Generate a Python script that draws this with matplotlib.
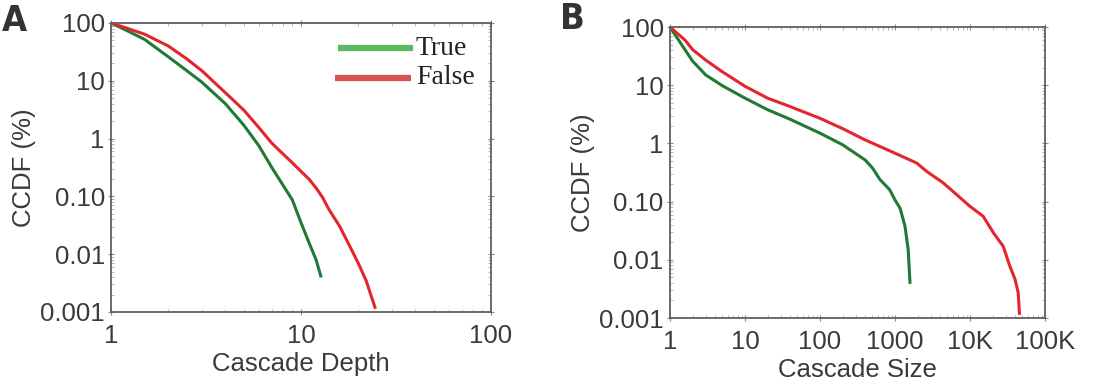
import matplotlib
matplotlib.use('Agg')
import matplotlib.pyplot as plt
import matplotlib.ticker as mticker

# Panel A: cascade depth CCDF (%)
depth_true_x = [1, 1.2, 1.5, 2, 2.5, 3, 4, 5, 6, 7, 8, 9, 10, 11, 12, 12.7]
depth_true_y = [100, 75, 52, 26, 15, 9.5, 4.0, 1.7, 0.75, 0.32, 0.16, 0.087, 0.035, 0.016, 0.008, 0.0042]
depth_false_x = [1, 1.2, 1.5, 2, 2.5, 3, 4, 5, 6, 7, 8, 9, 10, 11, 12, 13, 14, 16, 18, 20, 22, 24.5]
depth_false_y = [100, 82, 64, 40, 24, 15, 6.2, 3.1, 1.55, 0.84, 0.55, 0.38, 0.27, 0.2, 0.14, 0.095, 0.06, 0.03,
                 0.014, 0.007, 0.0035, 0.0012]

# Panel B: cascade size CCDF (%)
size_true_x = [1, 1.58, 2, 3, 5, 10, 20, 40, 100, 200, 400, 500, 630, 850, 1000, 1170, 1360, 1500, 1585]
size_true_y = [100, 41, 26, 15, 9.8, 6.0, 3.8, 2.6, 1.5, 0.95, 0.52, 0.38, 0.24, 0.16, 0.107, 0.077, 0.038,
               0.015, 0.0041]
size_false_x = [1, 1.58, 2, 3, 5, 10, 20, 40, 100, 200, 400, 1000, 1950, 2650, 4400, 10000, 15000, 20600,
                27800, 34000, 40000, 44000, 45700]
size_false_y = [100, 60, 41, 27, 17, 9.6, 6.0, 4.3, 2.7, 1.8, 1.15, 0.68, 0.46, 0.33, 0.21, 0.083, 0.056,
                0.029, 0.017, 0.0078, 0.0046, 0.0027, 0.0012]

y_ticks = [0.001, 0.01, 0.1, 1, 10, 100]
y_labels = ['0.001', '0.01', '0.10', '1', '10', '100']
xa_ticks = [1, 10, 100]
xa_labels = ['1', '10', '100']
xb_ticks = [1, 10, 100, 1000, 10000, 100000]
xb_labels = ['1', '10', '100', '1000', '10K', '100K']

GREEN = '#1f7a36'
RED = '#e3262d'
TXT = '#3a3a3a'
SANS = ['Liberation Sans', 'DejaVu Sans']

fig = plt.figure(figsize=(11.17, 3.89), dpi=100)
axA = fig.add_axes([0.0994, 0.198, 0.3402, 0.743])
axB = fig.add_axes([0.5998, 0.1825, 0.3357, 0.748])


def style_axis(ax, xticks, xlabels, xlim, xlabel):
    ax.set_xscale('log')
    ax.set_yscale('log')
    ax.set_xlim(*xlim)
    ax.set_ylim(0.001, 100)
    ax.set_xticks(xticks)
    ax.set_xticklabels(xlabels)
    ax.set_yticks(y_ticks)
    ax.set_yticklabels(y_labels)
    ax.xaxis.set_minor_locator(mticker.LogLocator(subs=range(2, 10), numticks=20))
    ax.yaxis.set_minor_locator(mticker.LogLocator(subs=range(2, 10), numticks=20))
    ax.xaxis.set_minor_formatter(mticker.NullFormatter())
    ax.yaxis.set_minor_formatter(mticker.NullFormatter())
    ax.tick_params(which='major', direction='inout', length=5, width=0.8, color='#888888',
                   top=True, right=True, labelsize=18.5, labelcolor=TXT)
    ax.tick_params(axis='x', which='major', pad=6)
    ax.tick_params(axis='y', which='major', pad=2)
    ax.tick_params(which='minor', direction='in', length=2.5, width=0.6, color='#aaaaaa',
                   top=True, right=True)
    for lab in ax.get_xticklabels() + ax.get_yticklabels():
        lab.set_family(SANS)
    for sp in ax.spines.values():
        sp.set_color('#606060')
        sp.set_linewidth(1.3)
    ax.set_xlabel(xlabel, fontsize=18.5, color=TXT, family=SANS, labelpad=3)
    ax.set_ylabel('CCDF (%)', fontsize=18.5, color=TXT, family=SANS, labelpad=3)


axA.plot(depth_true_x, depth_true_y, color=GREEN, lw=2.2)
axA.plot(depth_false_x, depth_false_y, color=RED, lw=2.2)
style_axis(axA, xa_ticks, xa_labels, (1, 100), 'Cascade Depth')

axB.plot(size_true_x, size_true_y, color=GREEN, lw=2.2)
axB.plot(size_false_x, size_false_y, color=RED, lw=2.2)
style_axis(axB, xb_ticks, xb_labels, (1, 100000), 'Cascade Size')

# legend drawn as in the original: light coloured bars with serif text
axA.plot([0.597, 0.795], [0.913, 0.913], transform=axA.transAxes, color='#5cb85c', lw=4.5,
         solid_capstyle='butt')
axA.plot([0.59, 0.79], [0.81, 0.81], transform=axA.transAxes, color='#d9534f', lw=4.5,
         solid_capstyle='butt')
axA.text(0.802, 0.913, 'True', transform=axA.transAxes, fontsize=20, family='Liberation Serif',
         color='#222222', va='center', ha='left')
axA.text(0.802, 0.81, 'False', transform=axA.transAxes, fontsize=20, family='Liberation Serif',
         color='#222222', va='center', ha='left')

fig.text(0.002, 0.99, 'A', fontsize=26, fontweight='bold', color='#333333', va='top', ha='left',
         family='DejaVu Sans', fontstretch='condensed')
fig.text(0.501, 0.995, 'B', fontsize=26, fontweight='bold', color='#333333', va='top', ha='left',
         family='DejaVu Sans', fontstretch='condensed')

fig.savefig('out.png', dpi=100)
